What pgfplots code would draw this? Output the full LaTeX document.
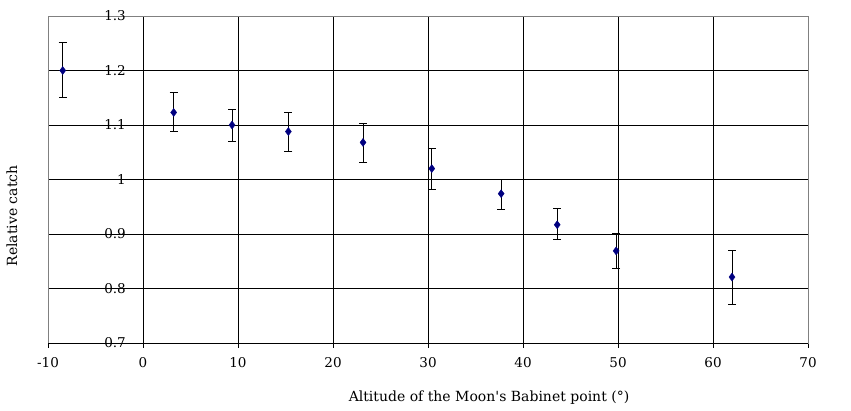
\documentclass[border=0pt]{standalone}
\usepackage{pgfplots}
\pgfplotsset{compat=1.18}
\usepackage{pgfplotstable}
\usepackage{fontspec}
\setmainfont{DejaVu Serif}
\definecolor{navy}{RGB}{0,0,128}
\pgfplotstableread{
x y ep em
-8.45 1.200 0.051 0.049
3.23 1.123 0.036 0.035
9.37 1.100 0.029 0.030
15.3 1.088 0.035 0.036
23.16 1.068 0.035 0.036
30.4 1.020 0.037 0.038
37.7 0.974 0.027 0.029
43.6 0.917 0.030 0.027
49.8 0.869 0.033 0.032
62.0 0.821 0.048 0.051
}\datatable
\begin{document}
\fontsize{14}{16}\selectfont
\begin{tikzpicture}
\path[use as bounding box] (0,0) rectangle (851pt,411pt);
\begin{axis}[
  at={(48pt,68pt)}, anchor=south west,
  scale only axis, width=760pt, height=327pt,
  xmin=-10, xmax=70, ymin=0.7, ymax=1.3,
  xtick={-10,0,10,20,30,40,50,60,70},
  ytick={0.7,0.8,0.9,1,1.1,1.2,1.3},
  yticklabels={0.7,0.8,0.9,1,1.1,1.2,1.3},
  grid=major,
  grid style={black, line width=0.8pt},
  axis line style={gray, line width=0.8pt},
  tick align=outside,
  major tick length=5pt,
  xtick pos=bottom, ytick pos=left,
  x tick style={black, line width=0.8pt},
  y tick style={draw=none},
  /pgf/number format/assume math mode=true,
  tick label style={font=\fontsize{13.5}{16}\selectfont},
  yticklabel style={anchor=east, inner sep=0pt, xshift=83pt},
  xticklabel style={yshift=-5pt},
  clip=false,
]
\addplot[only marks, mark=diamond*, mark size=4pt, mark options={fill=navy, draw=navy},
  error bars/.cd, y dir=both, y explicit,
  error bar style={black, line width=0.8pt},
  error mark options={rotate=90, mark size=4pt, black, line width=0.8pt}]
  table[x=x, y=y, y error plus=ep, y error minus=em] {\datatable};
\draw[black, line width=0.8pt] (rel axis cs:0,0) -- (rel axis cs:1,0);
\end{axis}
\node at (489pt,13pt) {Altitude of the Moon\textquotesingle s Babinet point (°)};
\node[rotate=90] at (12pt,195pt) {Relative catch};
\end{tikzpicture}
\end{document}
